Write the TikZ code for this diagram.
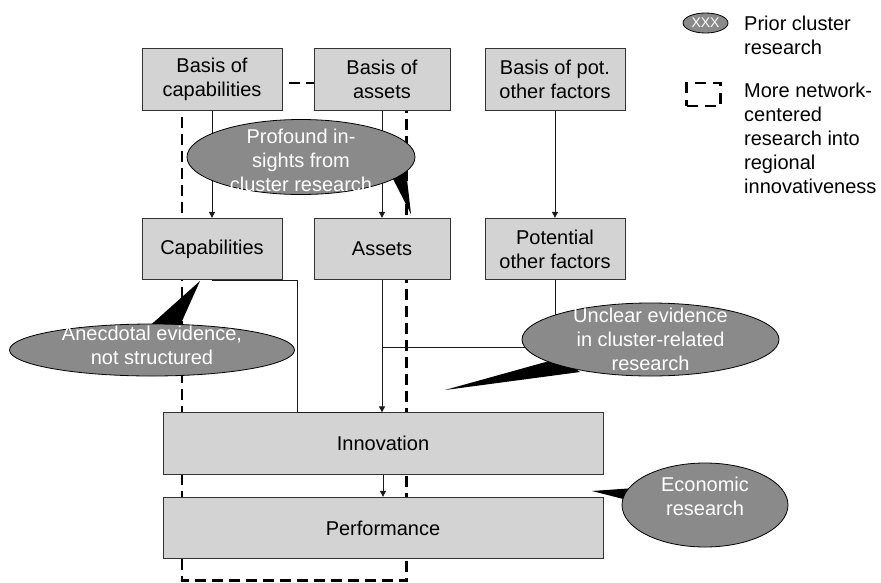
\documentclass[tikz,border=0pt]{standalone}
\usepackage{fontspec}
\setmainfont{Liberation Sans}
\usetikzlibrary{arrows.meta,shapes.geometric}
\definecolor{boxgray}{HTML}{D3D3D3}
\definecolor{ellgray}{HTML}{8A8A8A}
\definecolor{edgec}{HTML}{333333}
\definecolor{flowc}{HTML}{1A1A1A}

\begin{document}
\begin{tikzpicture}[x=1pt,y=-1pt,
  txt/.style={font=\fontsize{20}{24}\selectfont},
  box/.style={draw=edgec, fill=boxgray, line width=0.8pt, align=center,
    inner sep=0pt, txt, minimum width=#1, minimum height=61.5pt},
  box/.default=140pt,
  evid/.style={ellipse, draw=black, line width=0.8pt, fill=ellgray, inner sep=0pt},
  evtext/.style={text=white, align=center, txt, inner sep=0pt},
  legtext/.style={align=left, txt, inner sep=0pt, anchor=north west},
  flow/.style={draw=flowc, line width=0.9pt},
  arr/.style={flow, -{Triangle[length=6pt,width=6pt]}},
  netdash/.style={line width=2.6pt, dash pattern=on 11pt off 6pt},
  wedge/.style={fill=black},
]
\useasboundingbox (0,0) rectangle (881,582);

% frame of network-centred research, behind the boxes
\draw[netdash] (182,83) rectangle (406.5,580.5);

% boxes
\node[box] (bcap) at (212,79.5) {Basis of\\capabilities};
\node[box=136pt] (bass) at (382,79.5) {Basis of\\assets};
\node[box] (bpot) at (555,79.5) {Basis of pot.\\other factors};
\node[box] (cap) at (212,249) {Capabilities};
\node[box=136pt] (ass) at (382,249) {Assets};
\node[box] (pot) at (555,249) {Potential\\other factors};
\node[box=440pt] (inno) at (383,443.5) {Innovation};
\node[box=440pt] (perf) at (383,528) {Performance};

% flows
\coordinate (potj) at (382,347);
\draw[arr] (bcap) -- (cap);
\draw[arr] (bass) -- (ass);
\draw[arr] (bpot) -- (pot);
\draw[flow] (cap.south) -- ++(85,0) |- (ass.south |- inno.north);
\draw[flow] (pot.south) |- (potj);
\draw[arr] (ass.south) -- (ass.south |- inno.north);
\draw[arr] (inno) -- (perf);

% callout pointers
\fill[wedge] (391,175) -- (405,162) -- (411,214) -- cycle;
\fill[wedge] (145,330) -- (178,330) -- (200,281) -- cycle;
\fill[wedge] (560,358) -- (580,372) -- (445,390) -- cycle;
\fill[wedge] (635,488) -- (635,502) -- (592,491) -- cycle;

% prior cluster research
\node[evid, minimum width=228pt, minimum height=75pt,
  label={[evtext, yshift=-3pt]center:{Profound in-\\sights from\\cluster research}}]
  (prof) at (301,157) {};
\node[evid, minimum width=285pt, minimum height=52pt,
  label={[evtext, yshift=5pt]center:{Anecdotal evidence,\\not structured}}]
  (anec) at (152,350) {};
\node[evid, minimum width=257pt, minimum height=73pt,
  label={[evtext]center:{Unclear evidence\\in cluster-related\\research}}]
  (uncl) at (650.5,339.5) {};
\node[evid, minimum width=166pt, minimum height=84pt,
  label={[evtext, yshift=9pt]center:{Economic\\research}}]
  (econ) at (705,505) {};

% legend
\node[evid, minimum width=45pt, minimum height=20pt,
  label={[evtext, font=\fontsize{14}{16}\selectfont]center:XXX}]
  (lgell) at (705.5,23) {};
\node[legtext] (lgt1) at (744,15.4) {Prior cluster\\research};
\node[draw, netdash, line width=2.4pt, dash pattern=on 11pt off 7pt,
  minimum width=34pt, minimum height=23pt, inner sep=0pt]
  (lgdash) at (703.5,94.5) {};
\node[legtext] (lgt2) at (744,82.4)
  {More network-\\centered\\research into\\regional\\innovativeness};
\end{tikzpicture}
\end{document}
